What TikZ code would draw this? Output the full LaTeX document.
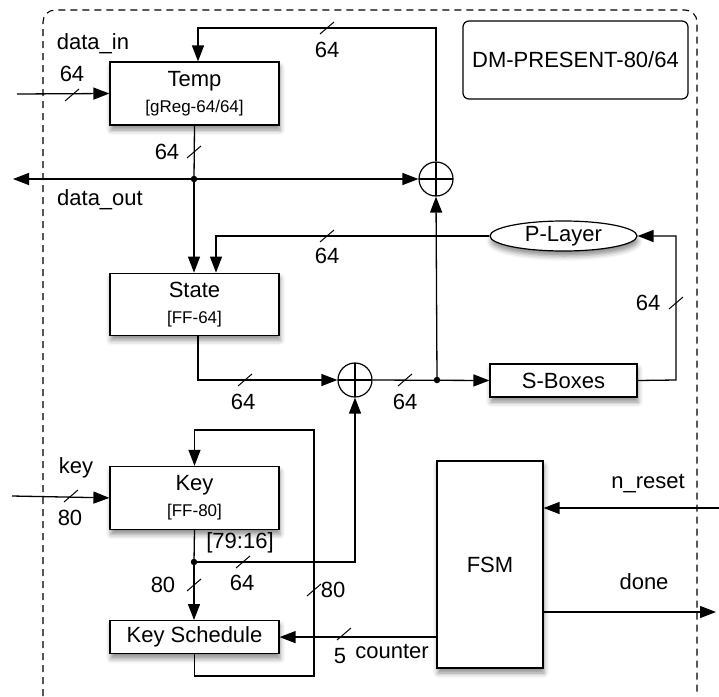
\documentclass[tikz,border=0pt]{standalone}
\usepackage{fontspec}
\setmainfont{Liberation Sans}
\usetikzlibrary{arrows.meta,calc,positioning,shapes.geometric,shadows.blur}
\newcommand\regtype[1]{{\fontsize{17}{19}\selectfont #1}}

\begin{document}
\begin{tikzpicture}[x=1pt,y=-1pt,
    font=\fontsize{22}{26}\selectfont,
    block/.style={draw,line width=1.2pt,fill=white,minimum width=169pt,align=center,
      inner sep=0pt,blur shadow={shadow xshift=1pt,shadow yshift=-5pt,
      shadow blur radius=5pt,shadow opacity=45}},
    xorgate/.style={circle,draw,line width=1.2pt,fill=white,minimum size=34pt,inner sep=0pt,
      path picture={\draw[line width=1.2pt]
        (path picture bounding box.north) -- (path picture bounding box.south)
        (path picture bounding box.west) -- (path picture bounding box.east);}},
    wire/.style={line width=1.3pt},
    flow/.style={wire,-{Triangle[length=16pt,width=12pt]}},
    junction/.style={circle,fill,inner sep=0pt,minimum size=6.5pt},
    busmark/.pic={\draw[line width=1pt] (-7,6) -- (7,-6);}]
  \useasboundingbox (0,0) rectangle (719,696);
  % outer boundary of the core
  \draw[line width=1.1pt,dash pattern=on 7pt off 5pt,rounded corners=12pt]
    (43,696) -- (43,10) -- (697,10) -- (697,696);
  \node[draw,line width=1.2pt,rounded corners=6pt,minimum width=225pt,
    minimum height=78pt] (title) at (575.5,60) {DM-PRESENT-80/64};
  % datapath blocks
  \node[block,minimum height=63pt] (temp) at (194.5,93.5) {Temp\\\regtype{[gReg-64/64]}};
  \node[block,minimum height=62pt,below=147pt of temp] (state) {State\\\regtype{[FF-64]}};
  \node[block,minimum height=63pt,below=130pt of state] (key) {Key\\\regtype{[FF-80]}};
  \node[block,minimum height=33pt,below=90pt of key] (keysched) {Key Schedule};
  \node[block,minimum width=147pt,minimum height=33pt] (sboxes) at (563.5,380.5) {S-Boxes};
  \node[block,ellipse,minimum width=147pt,minimum height=30pt] (player) at (563.5,236) {P-Layer};
  \node[block,minimum width=106pt,minimum height=207pt] (fsm) at (490,564.5) {FSM};
  \node[xorgate] (xortop) at (436,179) {};
  \node[xorgate] (xormid) at (355,380) {};
  % turning points and port ends
  \coordinate (datain) at (17,94);
  \coordinate (dataout) at (13,179);
  \coordinate (keyin) at (12,496);
  \coordinate (nresetin) at (719,508);
  \coordinate (doneout) at (716,612);
  \coordinate (splitout) at (194,179);
  \coordinate (splitround) at (437,380);
  \coordinate (splitkey) at (194,562);
  \coordinate (fbtop) at (198,28);
  \coordinate (sbturn) at (676,380);
  \coordinate (kloopa) at (314,676);
  \coordinate (kloopb) at (314,430);
  % connectors
  \draw[flow] (datain) -- (temp.west);
  \draw[flow] (xortop.north) |- (fbtop) -- (fbtop |- temp.north);
  \draw[wire] (temp.south) -- (splitout);
  \draw[flow] (splitout) -- (dataout);
  \draw[flow] (splitout) -- (xortop.west);
  \draw[flow] (splitout) -- (splitout |- state.north);
  \draw[flow] (player.west) -| ([xshift=21.5pt]state.north);
  \draw[flow] ([xshift=3.5pt]state.south) |- (xormid.west);
  \draw[flow] (xormid.east) -- (sboxes.west);
  \draw[flow] (splitround) -- (xortop.south);
  \draw[flow] (sboxes.east) -- (sbturn) |- (player.east);
  \draw[flow] (keyin) -- (key.west);
  \draw[wire] (key.south) -- (splitkey);
  \draw[flow] (splitkey) -- (splitkey |- keysched.north);
  \draw[flow] (splitkey) -| (xormid.south);
  \draw[flow] (keysched.south) |- (kloopa) -- (kloopb) -| (key.north);
  \draw[flow] (fsm.west |- keysched.east) -- (keysched.east);
  \draw[flow] (nresetin) -- (nresetin -| fsm.east);
  \draw[flow] (fsm.east |- doneout) -- (doneout);
  \node[junction] (dotout) at (splitout) {};
  \node[junction] (dotround) at (splitround) {};
  \node[junction] (dotkey) at (splitkey) {};
  % bus widths
  \pic at (72,95) {busmark};
  \pic at (327,28) {busmark};
  \pic at (194,152) {busmark};
  \pic at (327,236) {busmark};
  \pic at (245,380) {busmark};
  \pic at (405,380) {busmark};
  \pic at (676,303) {busmark};
  \pic at (71,496) {busmark};
  \pic at (194,585) {busmark};
  \pic at (243,562) {busmark};
  \pic at (314,590) {busmark};
  \pic at (344,634) {busmark};
  % signal labels
  \node (lbldatain) at (93,44) {data\_in};
  \node (lblin) at (72,74) {64};
  \node (lblfb) at (327,50) {64};
  \node (lbltemp) at (167,152) {64};
  \node (lbldataout) at (100,200) {data\_out};
  \node (lblplayer) at (327,256) {64};
  \node (lblstate) at (243,402) {64};
  \node (lblround) at (405,402) {64};
  \node (lblsbox) at (648,303) {64};
  \node (lblkey) at (76,468) {key};
  \node (lblkeyin) at (70,518) {80};
  \node (lblrange) at (240,543) {[79:16]};
  \node (lblkeyout) at (163,585) {80};
  \node (lblrk) at (242,583) {64};
  \node (lblloop) at (333,590) {80};
  \node (lblcnt) at (340,656) {5};
  \node (lblcounter) at (392,651) {counter};
  \node (lblreset) at (648,484) {n\_reset};
  \node (lbldone) at (644,582) {done};
\end{tikzpicture}
\end{document}
